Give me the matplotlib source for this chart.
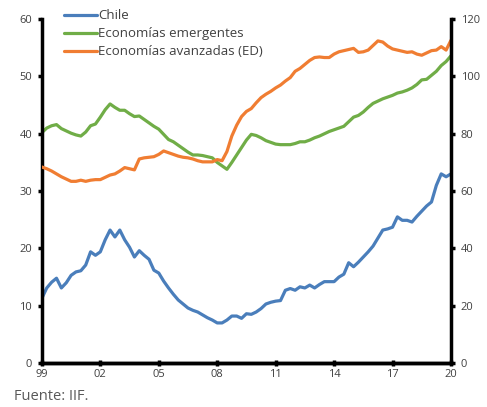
import numpy as np
import matplotlib
matplotlib.use("Agg")
import matplotlib.pyplot as plt

plt.rcParams['font.family'] = ['Open Sans', 'DejaVu Sans']

# trimestral, 1999T1 - 2020T1
t = 1999 + np.arange(85) * 0.25

chile = [11.3, 13.1, 14.1, 14.8, 13.1, 14.0, 15.3, 15.9, 16.1, 17.1,
         19.4, 18.8, 19.4, 21.5, 23.2, 22.0, 23.2, 21.5, 20.2, 18.5,
         19.6, 18.8, 18.1, 16.2, 15.7, 14.3, 13.1, 12.0, 11.0, 10.3,
         9.6, 9.2, 8.9, 8.4, 7.9, 7.5, 7.0, 7.0, 7.5, 8.2,
         8.2, 7.8, 8.6, 8.5, 8.9, 9.5, 10.3, 10.6, 10.8, 10.9,
         12.7, 13.0, 12.7, 13.3, 13.1, 13.6, 13.1, 13.7, 14.2, 14.2,
         14.2, 15.0, 15.5, 17.5, 16.8, 17.6, 18.5, 19.4, 20.4, 21.8,
         23.2, 23.4, 23.7, 25.5, 24.9, 24.9, 24.6, 25.6, 26.5, 27.4,
         28.1, 31.0, 33.0, 32.5, 33.0]

emergentes = [40.2, 41.0, 41.4, 41.6, 40.9, 40.5, 40.1, 39.8, 39.6, 40.3,
              41.4, 41.7, 42.9, 44.2, 45.2, 44.6, 44.1, 44.1, 43.5, 43.0,
              43.1, 42.5, 41.9, 41.3, 40.8, 39.9, 39.0, 38.6, 38.0, 37.4,
              36.8, 36.3, 36.3, 36.2, 36.0, 35.8, 35.0, 34.4, 33.8, 35.0,
              36.3, 37.6, 38.9, 39.9, 39.7, 39.3, 38.8, 38.5, 38.2, 38.1,
              38.1, 38.1, 38.3, 38.6, 38.6, 38.9, 39.3, 39.6, 40.0, 40.4,
              40.7, 41.0, 41.3, 42.1, 42.9, 43.2, 43.8, 44.6, 45.3, 45.7,
              46.1, 46.4, 46.7, 47.1, 47.3, 47.6, 48.0, 48.6, 49.4, 49.5,
              50.2, 50.9, 51.9, 52.6, 53.6]

# eje derecho
avanzadas = [68.4, 67.8, 67.0, 66.0, 65.0, 64.2, 63.4, 63.4, 63.8, 63.4,
             63.8, 64.0, 64.0, 64.8, 65.6, 66.0, 67.0, 68.2, 67.8, 67.4,
             71.2, 71.6, 71.8, 72.0, 72.8, 74.0, 73.4, 72.8, 72.2, 71.8,
             71.6, 71.2, 70.6, 70.2, 70.2, 70.2, 71.0, 70.6, 73.8, 79.2,
             83.0, 86.0, 87.8, 88.8, 90.8, 92.6, 93.8, 94.8, 96.0, 97.0,
             98.4, 99.6, 101.8, 102.8, 104.2, 105.6, 106.6, 106.8, 106.6, 106.6,
             107.8, 108.6, 109.0, 109.4, 109.8, 108.4, 108.6, 109.2, 110.8, 112.4,
             112.0, 110.6, 109.6, 109.2, 108.8, 108.4, 108.6, 107.8, 107.4, 108.2,
             109.0, 109.2, 110.4, 109.2, 112.6]

xticks = [1999, 2002, 2005, 2008, 2011, 2014, 2017, 2020]
xlabels = ['99', '02', '05', '08', '11', '14', '17', '20']

c_chile = '#4A7EBB'
c_em = '#70AD47'
c_av = '#F07D32'
txt = '#404040'

fig = plt.figure(figsize=(4.87, 4.07), dpi=100)
ax = fig.add_axes([0.086, 0.108, 0.840, 0.845])
ax2 = ax.twinx()

l1, = ax.plot(t, chile, color=c_chile, lw=2.3, solid_capstyle='round')
l2, = ax.plot(t, emergentes, color=c_em, lw=2.3, solid_capstyle='round')
l3, = ax2.plot(t, avanzadas, color=c_av, lw=2.3, solid_capstyle='round')

ax.set_xlim(1999, 2020)
ax.set_ylim(0, 60)
ax2.set_ylim(0, 120)
ax.set_yticks(range(0, 61, 10))
ax2.set_yticks(range(0, 121, 20))
ax.set_xticks(xticks)
ax.set_xticklabels(xlabels)

for a in (ax, ax2):
    a.spines['top'].set_visible(False)
    for s in ('left', 'right', 'bottom'):
        a.spines[s].set_linewidth(2.5)
        a.spines[s].set_color('black')
    a.tick_params(axis='both', which='major', length=3, width=2.5,
                  color='black', labelsize=8, labelcolor=txt, pad=4)
ax2.spines['left'].set_visible(False)
ax.spines['right'].set_visible(False)
ax.tick_params(axis='x', direction='inout', length=5, pad=2)

fig.legend([l1, l2, l3],
           ['Chile', 'Economías emergentes', 'Economías avanzadas (ED)'],
           loc='upper left', bbox_to_anchor=(0.131, 0.977), frameon=False,
           fontsize=9.5, handlelength=2.5, handletextpad=0.1,
           labelspacing=0.38, labelcolor=txt, borderaxespad=0, borderpad=0)

fig.text(0.028, 0.008, 'Fuente: IIF.', fontsize=10.5, color='#595959',
         ha='left', va='bottom')

fig.savefig('out.png', dpi=100)
